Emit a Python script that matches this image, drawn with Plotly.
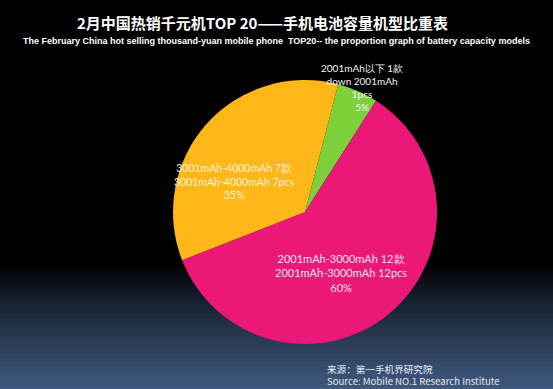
import plotly.graph_objects as go

# Data
categories_cn = ["2001mAh以下", "2001mAh-3000mAh", "3001mAh-4000mAh"]
categories_en = ["down 2001mAh", "2001mAh-3000mAh", "3001mAh-4000mAh"]
counts = [1, 12, 7]
percents = ["5%", "60%", "35%"]
colors = ["#7ED03A", "#EC1878", "#FDB718"]

W, H = 553, 389

fig = go.Figure()
fig.add_trace(go.Pie(
    values=counts,
    labels=categories_en,
    marker=dict(colors=colors, line=dict(width=0)),
    sort=False,
    direction="clockwise",
    rotation=14.6,
    textinfo="none",
    hoverinfo="label+percent",
    showlegend=False,
    domain=dict(x=[(305 - 132) / W, (305 + 132) / W],
                y=[(H - 212 - 132) / H, (H - 212 + 132) / H]),
))

# background gradient
shapes = [dict(type="rect", xref="paper", yref="paper", x0=0, x1=1, y0=0, y1=1,
               fillcolor="#000000", line=dict(width=0), layer="below")]
top, bot = 266, H
n = 64
c0 = (0, 0, 0)
c1 = (64, 90, 128)
for i in range(n):
    ya = top + (bot - top) * i / n
    yb = top + (bot - top) * (i + 1) / n + 0.5
    t = ((i + 0.5) / n) ** 0.8
    col = "rgb(%d,%d,%d)" % tuple(int(c0[k] + (c1[k] - c0[k]) * t) for k in range(3))
    shapes.append(dict(type="rect", xref="paper", yref="paper", x0=0, x1=1,
                       y0=1 - yb / H, y1=1 - ya / H, fillcolor=col,
                       line=dict(width=0), layer="below"))

lab_font = "Lato, 'Open Sans', sans-serif"


def ann(text, x, y, font, xanchor="center", align="center"):
    return dict(text=text, x=x / W, y=1 - y / H, xref="paper", yref="paper",
                showarrow=False, xanchor=xanchor, yanchor="middle",
                align=align, font=font)


annotations = [
    ann("<b>2月中国热销千元机TOP 20——手机电池容量机型比重表</b>", 262, 22,
        dict(family="Noto Sans CJK SC", size=15, color="white")),
    ann("<b>The February China hot selling thousand-yuan mobile phone  TOP20-- the proportion graph of battery capacity models</b>",
        276, 41, dict(family="Liberation Sans, Arial, sans-serif", size=9, color="white")),
    ann("%s %d款<br>%s<br>%dpcs<br>%s" % (categories_cn[0], counts[0], categories_en[0], counts[0], percents[0]),
        362, 87, dict(family=lab_font, size=10, color="#F4F4F4")),
    ann("%s %d款<br>%s %dpcs<br>%s" % (categories_cn[1], counts[1], categories_en[1], counts[1], percents[1]),
        341, 273, dict(family=lab_font, size=11, color="#FBE0EC")),
    ann("%s %d款<br>%s %dpcs<br>%s" % (categories_cn[2], counts[2], categories_en[2], counts[2], percents[2]),
        234, 182, dict(family=lab_font, size=10.5, color="#FFF3D6")),
    ann("来源：第一手机界研究院<br>Source: Mobile NO.1 Research Institute", 325, 375,
        dict(family="Noto Sans CJK SC, Open Sans", size=9.6, color="#E6ECF4"),
        xanchor="left", align="left"),
]

fig.update_layout(width=W, height=H, margin=dict(l=0, r=0, t=0, b=0),
                  paper_bgcolor="black", plot_bgcolor="black",
                  shapes=shapes, annotations=annotations)
fig.write_html("out.html", config=dict(displayModeBar=False),
               post_script="document.body.style.margin='0';document.body.style.background='black';")
